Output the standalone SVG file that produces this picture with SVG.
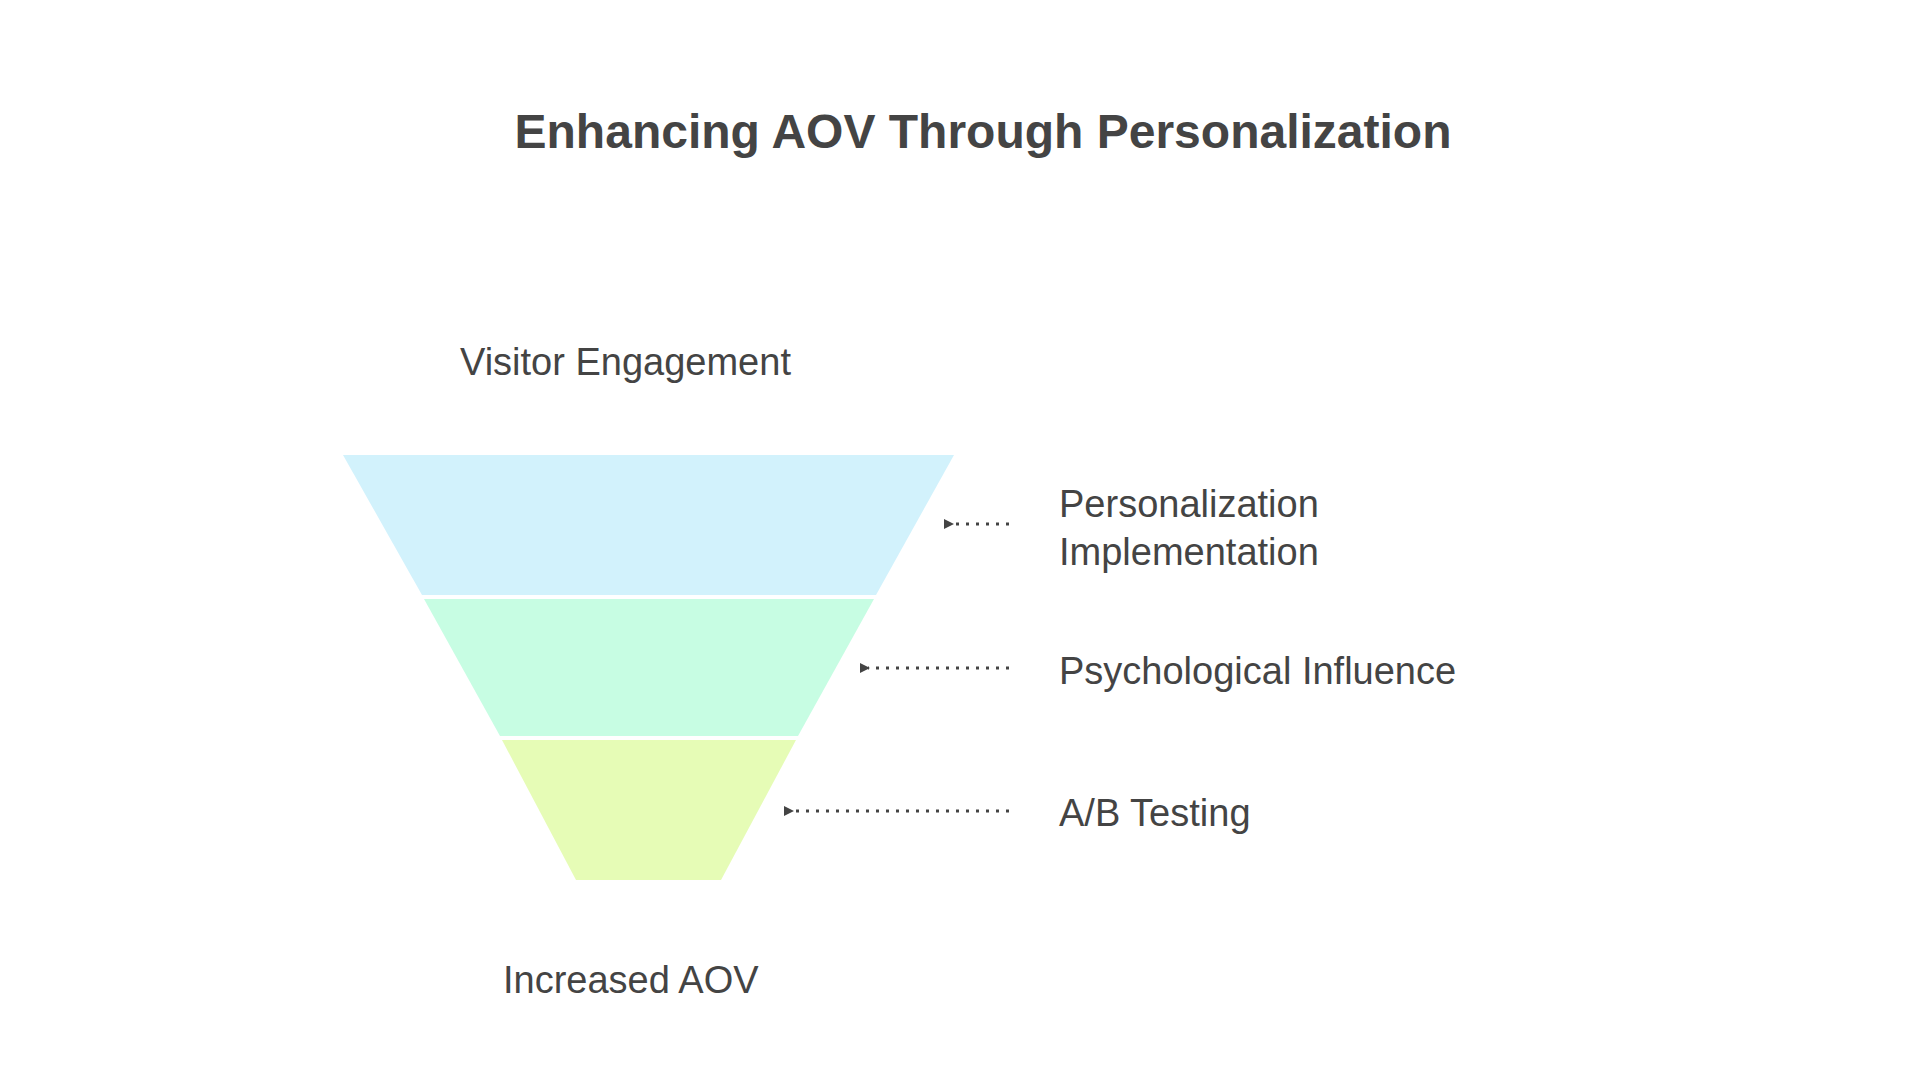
<svg xmlns="http://www.w3.org/2000/svg" width="1920" height="1080" viewBox="0 0 1920 1080">
<style>
text{font-family:"Liberation Sans","DejaVu Sans",sans-serif;fill:#444}
.lbl{font-size:38px}
.con{stroke:#444;stroke-width:3;stroke-dasharray:3 7;fill:none}
</style>
<defs><marker id="ah" markerWidth="10" markerHeight="10" refX="2" refY="5" orient="auto" markerUnits="userSpaceOnUse"><path d="M10,0 L0,5 L10,10 Z" fill="#444"/></marker></defs>
<rect width="1920" height="1080" fill="#fff"/>
<text x="983" y="148" text-anchor="middle" font-size="48" font-weight="bold">Enhancing AOV Through Personalization</text>
<g id="top"><text class="lbl" x="460" y="375">Visitor Engagement</text></g>
<g id="s1"><polygon points="343,455 954,455 876,595 422,595" fill="#d2f2fc"/></g>
<g id="s2"><polygon points="424,599 874,599 798,736 500,736" fill="#c7fde3"/></g>
<g id="s3"><polygon points="502,740 796,740 721,880 576,880" fill="#e6fcb6"/></g>
<g id="l1"><text class="lbl" x="1059" y="517">Personalization</text><text class="lbl" x="1059" y="565">Implementation</text></g>
<g id="l2"><text class="lbl" x="1059" y="684">Psychological Influence</text></g>
<g id="l3"><text class="lbl" x="1059" y="826">A/B Testing</text></g>
<g id="bottom"><text class="lbl" x="503" y="993">Increased AOV</text></g>
<g id="connectors">
<line class="con" x1="1009" y1="524" x2="952" y2="524" marker-end="url(#ah)"/>
<line class="con" x1="1009" y1="668" x2="868" y2="668" marker-end="url(#ah)"/>
<line class="con" x1="1009" y1="811" x2="792" y2="811" marker-end="url(#ah)"/>
</g>
</svg>
